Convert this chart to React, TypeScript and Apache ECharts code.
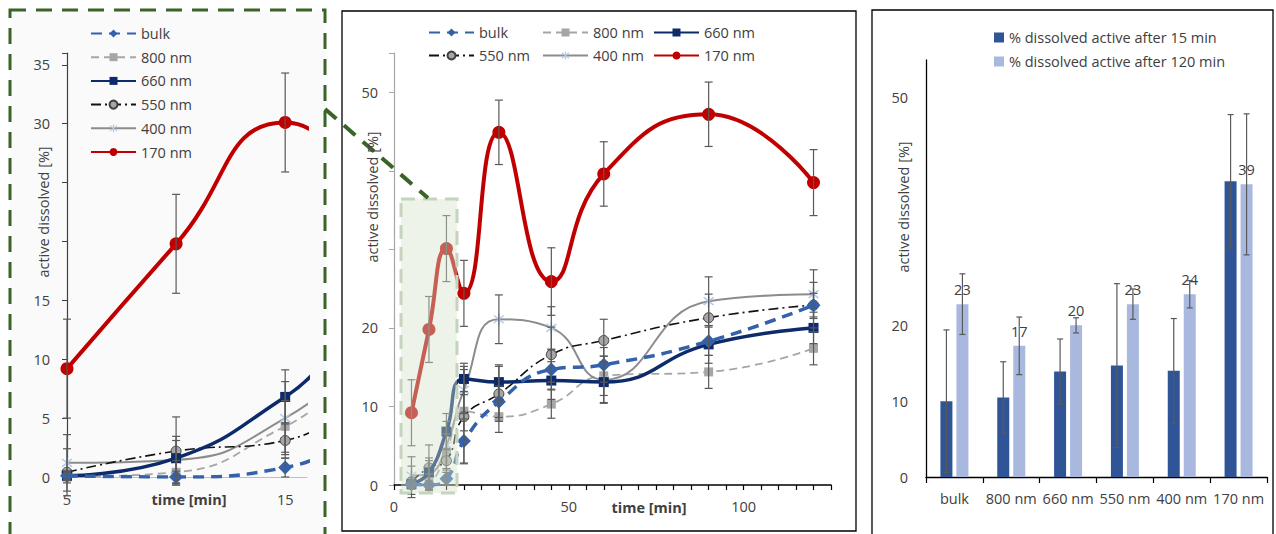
import React, { useEffect, useRef } from 'react';
import * as echarts from 'echarts';

// ---------- data ----------
const times = [5, 10, 15, 20, 30, 45, 60, 90, 120];
const bulk = [0.1, 0.0, 0.8, 5.6, 10.6, 14.7, 15.3, 18.3, 22.9];
const bulkErr = [0.3, 0.5, 0.8, 2.8, 2.0, 2.5, 2.2, 1.8, 1.5];
const nm800 = [0.0, 0.4, 4.3, 9.4, 8.7, 10.3, 13.9, 14.4, 17.4];
const nm800Err = [0.5, 1.0, 2.2, 2.5, 2.0, 1.8, 2.5, 2.1, 2.1];
const nm660 = [0.1, 1.6, 6.8, 13.5, 13.1, 13.3, 13.1, 17.9, 20.0];
const nm660Err = [0.4, 1.5, 2.3, 2.0, 2.2, 2.4, 2.6, 2.4, 2.0];
const nm550 = [0.4, 2.2, 3.1, 8.7, 11.6, 16.6, 18.4, 21.3, 22.9];
const nm550Err = [2.0, 2.9, 1.5, 6.0, 3.5, 3.5, 2.7, 3.0, 2.9];
const nm400 = [1.2, 1.45, 5.0, 12.1, 21.1, 20.0, 13.4, 23.4, 24.3];
const nm400Err = [2.4, 2.0, 3.1, 3.0, 3.1, 2.7, 3.0, 3.1, 3.1];
const nm170 = [9.2, 19.8, 30.1, 24.4, 44.9, 25.9, 39.6, 47.2, 38.5];
const nm170Err = [4.2, 4.2, 4.2, 4.2, 4.1, 4.3, 4.1, 4.1, 4.2];

const barCategories = ['bulk', '800 nm', '660 nm', '550 nm', '400 nm', '170 nm'];
const after15 = [10.0, 10.5, 13.9, 14.7, 14.0, 39.0];
const after15Err = [9.4, 4.7, 4.3, 10.8, 6.9, 8.8];
const after120 = [22.8, 17.3, 20.0, 22.8, 24.1, 38.6];
const after120Err = [4.0, 3.8, 1.0, 2.0, 1.8, 9.3];

const leftYLabels = [0, 5, 10, 15, 30, 35];
const leftXLabels = [5, 15];
const midYLabels = [0, 10, 20, 50];
const midXLabels = [0, 50, 100];
const barYLabels = [0, 10, 20, 50];

const BAR15 = '% dissolved active after 15 min';
const BAR120 = '% dissolved active after 120 min';

// ---------- styles ----------
const FONT = 'Open Sans';
const TXT = '#404040';
const STAR =
  'path://M-1.2,-10L1.2,-10L1.2,10L-1.2,10Z M6.2,-7.9L7.9,-6.2L-6.2,7.9L-7.9,6.2Z M-7.9,-6.2L-6.2,-7.9L7.9,6.2L6.2,7.9Z';

type Sty = { color: string; width: number; type: any; symbol: string; size: number; fill: string; border?: string };
const seriesDefs: { name: string; values: number[]; errs: number[]; sty: Sty }[] = [
  { name: '800 nm', values: nm800, errs: nm800Err, sty: { color: '#A6A6A6', width: 1.8, type: [8, 5], symbol: 'rect', size: 9, fill: '#A6A6A6' } },
  { name: '400 nm', values: nm400, errs: nm400Err, sty: { color: '#8C8C8C', width: 2, type: 'solid', symbol: STAR, size: 11, fill: '#B4C7E7' } },
  { name: '550 nm', values: nm550, errs: nm550Err, sty: { color: '#111111', width: 1.6, type: [10, 4, 2, 4], symbol: 'circle', size: 10, fill: '#A6A6A6', border: '#404040' } },
  { name: '660 nm', values: nm660, errs: nm660Err, sty: { color: '#0D2A6B', width: 3.5, type: 'solid', symbol: 'rect', size: 10, fill: '#0D2A6B' } },
  { name: 'bulk', values: bulk, errs: bulkErr, sty: { color: '#3461AA', width: 3.5, type: [11, 7], symbol: 'diamond', size: 14, fill: '#3461AA' } },
  { name: '170 nm', values: nm170, errs: nm170Err, sty: { color: '#C00000', width: 4, type: 'solid', symbol: 'circle', size: 13, fill: '#C00000' } },
];

const LEFT_MAX_X = 16;
const BAR_W = 12;
const BAR_GAP = 4;

function errRender(offset: number, half: number) {
  return (params: any, api: any) => {
    const x = api.value(0);
    const y = api.value(1);
    const e = api.value(2);
    const top = api.coord([x, y + e]);
    const bot = api.coord([x, y - e]);
    const cx = top[0] + offset;
    const style = { stroke: '#595959', lineWidth: 1.2 };
    return {
      type: 'group',
      children: [
        { type: 'line', shape: { x1: cx, y1: top[1], x2: cx, y2: bot[1] }, style },
        { type: 'line', shape: { x1: cx - half, y1: top[1], x2: cx + half, y2: top[1] }, style },
        { type: 'line', shape: { x1: cx - half, y1: bot[1], x2: cx + half, y2: bot[1] }, style },
      ],
    };
  };
}

function lineSeries(grid: number) {
  const out: any[] = [];
  seriesDefs.forEach((d, k) => {
    out.push({
      type: 'line',
      name: d.name,
      xAxisIndex: grid,
      yAxisIndex: grid,
      data: times.map((t, i) => [t, d.values[i]]),
      smooth: 0.5,
      symbol: d.sty.symbol,
      symbolSize: d.sty.size,
      showAllSymbol: true,
      clip: true,
      lineStyle: { color: d.sty.color, width: d.sty.width, type: d.sty.type },
      itemStyle: { color: d.sty.fill, borderColor: d.sty.border || d.sty.fill, borderWidth: d.sty.border ? 1 : 0 },
      z: 3 + k,
    });
  });
  seriesDefs.forEach((d) => {
    const pts = times
      .map((t, i) => [t, d.values[i], d.errs[i]])
      .filter((p) => grid !== 0 || p[0] <= LEFT_MAX_X);
    out.push({
      type: 'custom',
      xAxisIndex: grid,
      yAxisIndex: grid,
      data: pts,
      renderItem: errRender(0, 4),
      z: 20,
      silent: true,
    });
  });
  return out;
}

const labelFmt = (list: number[]) => (v: number) => (list.includes(v) ? String(v) : '');

const axisLabelBase = { color: TXT, fontSize: 14.5, fontFamily: FONT };
const legendText = { color: TXT, fontSize: 14.5, fontFamily: FONT };

const option: any = {
  animation: false,
  textStyle: { fontFamily: FONT },
  grid: [
    { left: 67, top: 53, width: 240, height: 424 },
    { left: 394, top: 53, width: 437, height: 432 },
    { left: 926, top: 60, width: 341, height: 417 },
  ],
  xAxis: [
    {
      gridIndex: 0, type: 'value', min: 5, max: LEFT_MAX_X, interval: 5,
      axisLine: { show: true, lineStyle: { color: '#BFBFBF', width: 1.2 } },
      axisTick: { show: false }, splitLine: { show: false },
      axisLabel: { ...axisLabelBase, margin: 15, formatter: labelFmt(leftXLabels) },
    },
    {
      gridIndex: 1, type: 'value', min: 0, max: 125, interval: 5,
      axisLine: { show: true, onZero: false, lineStyle: { color: '#000', width: 1.5 } },
      axisTick: { show: true, length: 5, lineStyle: { color: '#000', width: 1.2 } },
      splitLine: { show: false },
      axisLabel: { ...axisLabelBase, margin: 14, formatter: labelFmt(midXLabels) },
    },
    {
      gridIndex: 2, type: 'category', data: barCategories,
      axisLine: { show: true, lineStyle: { color: '#000', width: 1.3 } },
      axisTick: { show: true, length: 6, alignWithLabel: false, lineStyle: { color: '#000', width: 1.2 } },
      axisLabel: { ...axisLabelBase, margin: 14, interval: 0 },
    },
  ],
  yAxis: [
    {
      gridIndex: 0, type: 'value', min: 0, max: 36, interval: 5,
      axisLine: { show: true, lineStyle: { color: '#404040', width: 1.2 } },
      axisTick: { show: true, length: 5, lineStyle: { color: '#404040' } },
      splitLine: { show: false },
      axisLabel: { ...axisLabelBase, margin: 17, formatter: labelFmt(leftYLabels) },
    },
    {
      gridIndex: 1, type: 'value', min: 0, max: 55, interval: 10,
      axisLine: { show: true, lineStyle: { color: '#A6A6A6', width: 1.2 } },
      axisTick: { show: true, length: 5, lineStyle: { color: '#A6A6A6' } },
      splitLine: { show: false },
      axisLabel: { ...axisLabelBase, margin: 16, formatter: labelFmt(midYLabels) },
    },
    {
      gridIndex: 2, type: 'value', min: 0, max: 55, interval: 10,
      axisLine: { show: true, lineStyle: { color: '#000', width: 1.3 } },
      axisTick: { show: false }, splitLine: { show: false },
      axisLabel: { ...axisLabelBase, margin: 18, formatter: labelFmt(barYLabels) },
    },
  ],
  legend: [
    {
      left: 85, top: 21, orient: 'vertical', itemWidth: 45, itemHeight: 10, itemGap: 8.7,
      selectedMode: false, textStyle: legendText,
      data: ['bulk', '800 nm', '660 nm', '550 nm', '400 nm', '170 nm'],
    },
    {
      left: 423, top: 20, orient: 'vertical', itemWidth: 45, itemHeight: 10, itemGap: 8,
      selectedMode: false, textStyle: legendText,
      data: ['bulk', '550 nm'],
    },
    {
      left: 537, top: 20, orient: 'vertical', itemWidth: 45, itemHeight: 10, itemGap: 8,
      selectedMode: false, textStyle: legendText,
      data: ['800 nm', '400 nm'],
    },
    {
      left: 648, top: 20, orient: 'vertical', itemWidth: 45, itemHeight: 10, itemGap: 8,
      selectedMode: false, textStyle: legendText,
      data: ['660 nm', '170 nm'],
    },
    {
      left: 989, top: 25, orient: 'vertical', itemWidth: 10, itemHeight: 10, itemGap: 9, icon: 'rect',
      selectedMode: false, textStyle: legendText,
      data: [BAR15, BAR120],
    },
  ],
  series: [
    ...lineSeries(0),
    ...lineSeries(1),
    {
      type: 'bar', name: BAR15, xAxisIndex: 2, yAxisIndex: 2, data: after15,
      barWidth: BAR_W, barGap: (BAR_GAP / BAR_W) * 100 + '%', itemStyle: { color: '#2F5597' },
    },
    {
      type: 'bar', name: BAR120, xAxisIndex: 2, yAxisIndex: 2, data: after120,
      barWidth: BAR_W, itemStyle: { color: '#A9B8DE' },
      label: {
        show: true, position: 'top', distance: 7, color: TXT, fontSize: 14.5, fontFamily: FONT,
        formatter: (p: any) => String(Math.round(p.value)),
      },
    },
    {
      type: 'custom', xAxisIndex: 2, yAxisIndex: 2, silent: true, z: 20,
      data: after15.map((v, i) => [i, v, after15Err[i]]),
      renderItem: errRender(-(BAR_W + BAR_GAP) / 2, 3),
    },
    {
      type: 'custom', xAxisIndex: 2, yAxisIndex: 2, silent: true, z: 20,
      data: after120.map((v, i) => [i, v, after120Err[i]]),
      renderItem: errRender((BAR_W + BAR_GAP) / 2, 3),
    },
  ],
  graphic: [
    { type: 'rect', z: -10, silent: true, shape: { x: 10, y: 10, width: 315, height: 560 }, style: { fill: '#FAFAFA' } },
    { type: 'rect', z: 100, silent: true, shape: { x: 10, y: 10, width: 315, height: 560 }, style: { fill: 'none', stroke: '#3A6427', lineWidth: 3, lineDash: [16, 10] } },
    { type: 'rect', z: 100, silent: true, shape: { x: 342, y: 11, width: 514, height: 520 }, style: { fill: 'none', stroke: '#000', lineWidth: 1.3 } },
    { type: 'rect', z: 100, silent: true, shape: { x: 872, y: 10, width: 401, height: 560 }, style: { fill: 'none', stroke: '#000', lineWidth: 1.3 } },
    { type: 'rect', z: 90, silent: true, shape: { x: 401, y: 199, width: 56, height: 294 }, style: { fill: 'rgba(212,227,202,0.42)', stroke: '#C6D4BE', lineWidth: 3, lineDash: [14, 8] } },
    { type: 'line', z: 100, silent: true, shape: { x1: 325, y1: 109, x2: 428, y2: 198 }, style: { stroke: '#3A6427', lineWidth: 4, lineDash: [15, 10] } },
    { type: 'text', z: 100, silent: true, x: 43, y: 212, rotation: Math.PI / 2, style: { text: 'active dissolved [%]', fill: TXT, fontSize: 14.5, fontFamily: FONT, align: 'center', verticalAlign: 'middle' } },
    { type: 'text', z: 100, silent: true, x: 372, y: 197, rotation: Math.PI / 2, style: { text: 'active dissolved [%]', fill: TXT, fontSize: 14.5, fontFamily: FONT, align: 'center', verticalAlign: 'middle' } },
    { type: 'text', z: 100, silent: true, x: 903, y: 207, rotation: Math.PI / 2, style: { text: 'active dissolved [%]', fill: TXT, fontSize: 14.5, fontFamily: FONT, align: 'center', verticalAlign: 'middle' } },
    { type: 'text', z: 100, silent: true, x: 189, y: 499, style: { text: 'time [min]', fill: TXT, fontSize: 14.5, fontWeight: 'bold', fontFamily: FONT, align: 'center', verticalAlign: 'middle' } },
    { type: 'text', z: 100, silent: true, x: 649, y: 507, style: { text: 'time [min]', fill: TXT, fontSize: 14.5, fontWeight: 'bold', fontFamily: FONT, align: 'center', verticalAlign: 'middle' } },
  ],
};

export default function App() {
  const ref = useRef<HTMLDivElement>(null);
  useEffect(() => {
    if (!ref.current) return;
    const chart = echarts.init(ref.current, null, { renderer: 'svg' });
    chart.setOption(option);
    return () => chart.dispose();
  }, []);
  return <div ref={ref} style={{ position: 'absolute', left: 0, top: 0, width: 1276, height: 534 }} />;
}
